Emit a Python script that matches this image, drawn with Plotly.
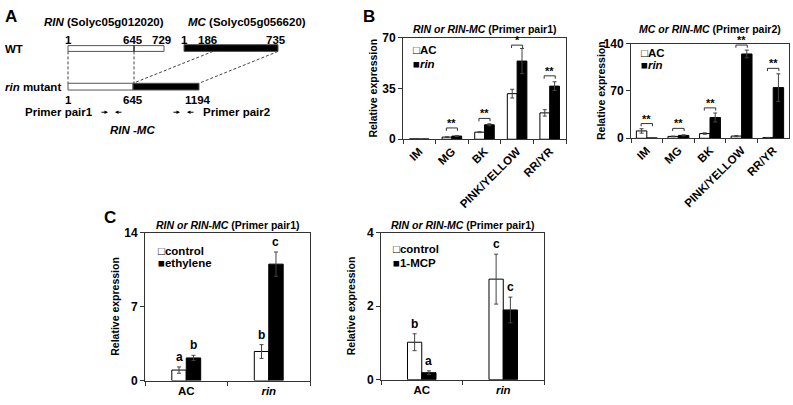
import plotly.graph_objects as go

W, H = 793, 405
FONT = "Arial, Liberation Sans, DejaVu Sans, sans-serif"

# ---- data ----
stages = ["IM", "MG", "BK", "PINK/YELLOW", "RR/YR"]

# B left: RIN or RIN-MC (Primer pair1)
p1_ac = [0.3, 1.5, 4.9, 31.5, 18.2]
p1_ac_err = [0.1, 0.2, 0.3, 3.0, 2.2]
p1_rin = [0.2, 2.2, 10.0, 54.0, 36.7]
p1_rin_err = [0.1, 0.3, 0.7, 8.7, 3.0]
p1_sig = ["", "**", "**", "*", "**"]
p1_sig_y = [0, 7.8, 14.4, 65.0, 43.8]

# B right: MC or RIN-MC (Primer pair2)
p2_ac = [10.9, 2.8, 7.0, 3.3, 1.0]
p2_ac_err = [3.3, 0.5, 1.0, 0.8, 0.3]
p2_rin = [0.6, 4.3, 30.8, 124.8, 75.0]
p2_rin_err = [0.3, 0.8, 6.6, 5.7, 20.4]
p2_sig = ["**", "**", "**", "**", "**"]
p2_sig_y = [21.8, 14.7, 45.0, 138.0, 103.5]

genotypes = ["AC", "rin"]

# C left: ethylene
eth_ctrl = [1.0, 2.76]
eth_ctrl_err = [0.3, 0.65]
eth_trt = [2.15, 11.04]
eth_trt_err = [0.25, 1.15]
eth_ctrl_lbl = ["a", "b"]
eth_trt_lbl = ["b", "c"]

# C right: 1-MCP
mcp_ctrl = [1.02, 2.74]
mcp_ctrl_err = [0.23, 0.68]
mcp_trt = [0.19, 1.9]
mcp_trt_err = [0.05, 0.35]
mcp_ctrl_lbl = ["b", "c"]
mcp_trt_lbl = ["a", "c"]


def px(x):
    return x / W


def py(y):
    return 1 - y / H


fig = go.Figure()
annotations = []
shapes = []


def bar_panel(n, cats, s1, e1, s2, e2, w, xdom, ydom, ymax, title, title_y,
              leg1, leg2, leg_x, leg_y, tickangle, ticktext=None):
    xa = "x" if n == 1 else f"x{n}"
    ya = "y" if n == 1 else f"y{n}"
    for vals, err, fill, off in [(s1, e1, "white", -w), (s2, e2, "black", 0)]:
        fig.add_trace(go.Bar(
            x=cats, y=vals, width=w, offset=off,
            marker=dict(color=fill, line=dict(color="black", width=1)),
            error_y=dict(type="data", array=err, color="#444", thickness=1, width=2),
            xaxis=xa, yaxis=ya, showlegend=False, hoverinfo="skip"))
    sfx = "" if n == 1 else str(n)
    fig.layout["xaxis" + sfx] = dict(
        domain=[px(xdom[0]), px(xdom[1])], anchor=ya, type="category",
        categoryarray=cats, categoryorder="array",
        showline=True, mirror=True, linecolor="#333", linewidth=1,
        ticks="outside", tickson="boundaries", ticklen=4, tickcolor="#333",
        tickangle=tickangle, showgrid=False, zeroline=False,
        tickvals=cats, ticktext=ticktext or cats,
        tickfont=dict(size=11.5, family=FONT, color="black", weight="bold"))
    fig.layout["yaxis" + sfx] = dict(
        domain=[py(ydom[1]), py(ydom[0])], anchor=xa,
        range=[0, ymax], tickvals=[0, ymax / 2, ymax],
        showline=True, mirror=True, linecolor="#333", linewidth=1,
        ticks="outside", ticklen=4, tickcolor="#333",
        showgrid=False, zeroline=False,
        tickfont=dict(size=12, family=FONT, color="black", weight="bold"))
    # title
    annotations.append(dict(
        x=px((xdom[0] + xdom[1]) / 2), y=py(title_y), xref="paper", yref="paper",
        text=title, showarrow=False, xanchor="center", yanchor="middle",
        font=dict(size=10.5)))
    # y title
    annotations.append(dict(
        x=px(xdom[0] - 30), y=py((ydom[0] + ydom[1]) / 2), xref="paper", yref="paper",
        text="Relative expression", textangle=-90, showarrow=False,
        xanchor="center", yanchor="middle", font=dict(size=10.5)))
    # legend
    for txt, yy in [(leg1, leg_y[0]), (leg2, leg_y[1])]:
        annotations.append(dict(
            x=px(leg_x), y=py(yy), xref="paper", yref="paper", text=txt,
            showarrow=False, xanchor="left", yanchor="middle", font=dict(size=11.5)))
    return xa, ya


# B left
xa, ya = bar_panel(1, stages, p1_ac, p1_ac_err, p1_rin, p1_rin_err, 0.3,
                   (403, 566), (32, 137), 70,
                   "<i>RIN or RIN-MC</i> (Primer pair1)", 23,
                   "□AC", "■<i>rin</i>", 411, (45, 59), -45)
for i, (s, y) in enumerate(zip(p1_sig, p1_sig_y)):
    if not s:
        continue
    shapes.append(dict(type="path", xref=xa, yref=ya, line=dict(color="#333", width=1),
                       path=f"M{i-0.17},{y-2} L{i-0.17},{y} L{i+0.17},{y} L{i+0.17},{y-2}"))
    annotations.append(dict(x=i, y=y, xref=xa, yref=ya, text=s, showarrow=False,
                            yanchor="bottom", yshift=-3, font=dict(size=11)))

# B right
xa, ya = bar_panel(2, stages, p2_ac, p2_ac_err, p2_rin, p2_rin_err, 0.33,
                   (631, 789), (38, 136), 140,
                   "<i>MC or RIN-MC</i> (Primer pair2)", 23,
                   "□AC", "■<i>rin</i>", 639, (48, 60), -45)
for i, (s, y) in enumerate(zip(p2_sig, p2_sig_y)):
    shapes.append(dict(type="path", xref=xa, yref=ya, line=dict(color="#333", width=1),
                       path=f"M{i-0.18},{y-4} L{i-0.18},{y} L{i+0.18},{y} L{i+0.18},{y-4}"))
    annotations.append(dict(x=i, y=y, xref=xa, yref=ya, text=s, showarrow=False,
                            yanchor="bottom", yshift=-3, font=dict(size=11)))

# C left
w_c = 0.175
xa, ya = bar_panel(3, genotypes, eth_ctrl, eth_ctrl_err, eth_trt, eth_trt_err, w_c,
                   (145, 310), (234, 387), 14,
                   "<i>RIN or RIN-MC</i> (Primer pair1)", 226,
                   "□control", "■ethylene", 156, (253, 265), 0,
                   ticktext=["AC", "<i>rin</i>"])
for i in range(2):
    for v, e, lbl, sgn in [(eth_ctrl[i], eth_ctrl_err[i], eth_ctrl_lbl[i], -1),
                           (eth_trt[i], eth_trt_err[i], eth_trt_lbl[i], 1)]:
        annotations.append(dict(x=i + sgn * w_c / 2, y=v + e, xref=xa, yref=ya, text=lbl,
                                showarrow=False, yanchor="bottom", yshift=1,
                                font=dict(size=12)))

# C right
xa, ya = bar_panel(4, genotypes, mcp_ctrl, mcp_ctrl_err, mcp_trt, mcp_trt_err, w_c,
                   (381, 544), (234, 386), 4,
                   "<i>RIN or RIN-MC</i> (Primer pair1)", 226,
                   "□control", "■1-MCP", 391, (251, 265), 0,
                   ticktext=["AC", "<i>rin</i>"])
for i in range(2):
    for v, e, lbl, sgn in [(mcp_ctrl[i], mcp_ctrl_err[i], mcp_ctrl_lbl[i], -1),
                           (mcp_trt[i], mcp_trt_err[i], mcp_trt_lbl[i], 1)]:
        annotations.append(dict(x=i + sgn * w_c / 2, y=v + e, xref=xa, yref=ya, text=lbl,
                                showarrow=False, yanchor="bottom", yshift=1,
                                font=dict(size=12)))

# ---- panel A schematic (drawn on a hidden axis in schematic units) ----
fig.layout.xaxis5 = dict(domain=[0, px(360)], range=[0, 360], visible=False, anchor="y5")
fig.layout.yaxis5 = dict(domain=[py(140), 1], range=[140, 0], visible=False, anchor="x5")

gene_boxes = [  # x0, x1, y0, y1, fill
    (68, 164, 40, 46, "white"),    # RIN WT
    (184, 278, 39, 46, "black"),   # MC WT
    (68, 133, 79, 86, "white"),    # rin mutant, RIN part
    (133, 199, 79, 86, "black"),   # rin mutant, MC part
]
for x0, x1, y0, y1, fill in gene_boxes:
    shapes.append(dict(type="rect", xref="x5", yref="y5", x0=x0, x1=x1, y0=y0, y1=y1,
                       fillcolor=fill, line=dict(color="#555", width=1)))
shapes.append(dict(type="line", xref="x5", yref="y5", x0=134, x1=134, y0=40, y1=46,
                   line=dict(color="#222", width=1.5)))

junction_lines = [(68, 46, 68, 79), (134, 46, 134, 79), (213, 46, 133, 79), (278, 46, 199, 79)]
for x0, y0, x1, y1 in junction_lines:
    shapes.append(dict(type="line", xref="x5", yref="y5", x0=x0, y0=y0, x1=x1, y1=y1,
                       line=dict(color="#444", width=1, dash="3px,2px")))

diagram_text = [  # x, y, text, anchor
    (42, 16, "<i>RIN</i> (Solyc05g012020)", "left"),
    (186, 16, "<i>MC</i> (Solyc05g056620)", "left"),
    (3, 43, "WT", "left"),
    (68, 34, "1", "center"), (133, 34, "645", "center"), (161, 34, "729", "center"),
    (184, 34, "1", "center"), (207, 34, "186", "center"), (276, 34, "735", "center"),
    (3, 83, "<i>rin</i> mutant", "left"),
    (68, 96, "1", "center"), (133, 96, "645", "center"), (198, 96, "1194", "center"),
    (23, 109, "Primer pair1", "left"),
    (201, 109, "Primer pair2", "left"),
    (132, 127, "<i>RIN -MC</i>", "center"),
]
for x, y, t, anc in diagram_text:
    annotations.append(dict(x=x, y=y, xref="x5", yref="y5", text=t, showarrow=False,
                            xanchor=anc, yanchor="middle", font=dict(size=11.5)))

# primer arrows: head x, direction (+1 forward, -1 reverse)
primer_arrows = [(108, 1), (115, -1), (180, 1), (187, -1)]
for hx, d in primer_arrows:
    annotations.append(dict(x=hx, y=109, xref="x5", yref="y5", text="", showarrow=True,
                            ax=-8 * d, ay=0, arrowhead=2, arrowsize=0.7, arrowwidth=1,
                            arrowcolor="black"))

# panel letters
for x, y, t in [(3, 10, "A"), (361, 10, "B"), (102, 218, "C")]:
    annotations.append(dict(x=px(x), y=py(y), xref="paper", yref="paper", text=t,
                            showarrow=False, xanchor="left", yanchor="middle",
                            font=dict(size=17)))

fig.update_layout(
    width=W, height=H, autosize=False,
    margin=dict(l=0, r=0, t=0, b=0),
    paper_bgcolor="white", plot_bgcolor="white",
    barmode="overlay", hovermode=False,
    font=dict(family=FONT, size=12, color="black", weight="bold"),
    annotations=annotations, shapes=shapes,
)

# the page's default body margin would shift the figure by 8px
fig.write_html("out.html", config={"displayModeBar": False},
               post_script="document.body.style.margin='0px';")
